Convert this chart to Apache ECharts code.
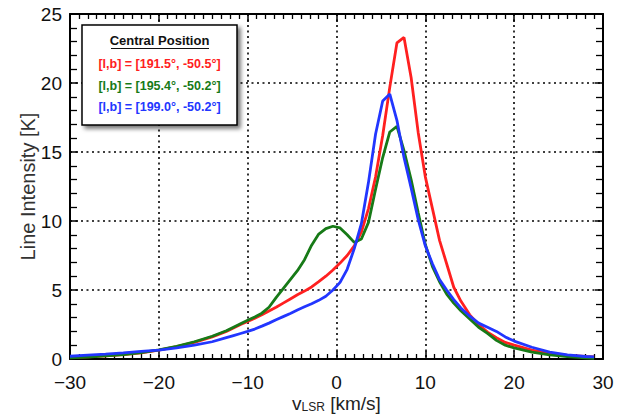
<!DOCTYPE html>
<html>
<head>
<meta charset="utf-8">
<script src="https://cdn.jsdelivr.net/npm/echarts@6/dist/echarts.min.js"></script>
<style>
html,body{margin:0;padding:0;background:#fff;}
#chart{width:624px;height:414px;}
</style>
</head>
<body>
<div id="chart"></div>
<script>
// ---- data ----
const velocity = [-30, -28, -26, -24, -22, -20, -18, -16, -14, -12.4, -11.6, -10.8, -10.0, -9.2, -8.4, -7.6, -6.8, -6.0, -5.2, -4.4, -3.6, -2.8, -2.0, -1.2, -0.4, 0.4, 1.2, 2.0, 2.8, 3.6, 4.4, 5.2, 6.0, 6.8, 7.6, 8.4, 9.2, 10.0, 10.8, 11.6, 12.4, 13.2, 14.0, 15, 16, 17, 18, 19, 20, 22, 24, 26, 28, 29];
const redIntensity = [0.10, 0.15, 0.22, 0.32, 0.45, 0.65, 0.90, 1.20, 1.60, 2.00, 2.25, 2.50, 2.72, 2.95, 3.20, 3.48, 3.75, 4.05, 4.35, 4.65, 4.92, 5.22, 5.60, 6.00, 6.45, 6.95, 7.50, 8.20, 9.20, 10.9, 13.2, 16.2, 19.7, 22.9, 23.3, 20.4, 16.4, 13.2, 10.9, 8.6, 6.9, 5.2, 4.2, 3.2, 2.5, 1.95, 1.55, 1.2, 1.0, 0.65, 0.42, 0.27, 0.18, 0.15];
const greenIntensity = [0.08, 0.14, 0.22, 0.32, 0.46, 0.66, 0.92, 1.25, 1.65, 2.05, 2.30, 2.55, 2.80, 3.05, 3.32, 3.75, 4.45, 5.10, 5.75, 6.40, 7.20, 8.25, 9.05, 9.45, 9.62, 9.50, 9.00, 8.45, 8.70, 9.90, 12.3, 14.6, 16.45, 16.85, 15.1, 13.0, 10.6, 8.3, 6.7, 5.6, 4.7, 4.05, 3.5, 2.9, 2.3, 1.85, 1.35, 1.0, 0.8, 0.5, 0.3, 0.17, 0.08, 0.05];
const blueIntensity = [0.20, 0.28, 0.36, 0.45, 0.55, 0.65, 0.80, 1.00, 1.25, 1.55, 1.70, 1.85, 2.00, 2.17, 2.38, 2.60, 2.84, 3.07, 3.30, 3.55, 3.78, 4.00, 4.25, 4.55, 5.00, 5.55, 6.50, 8.00, 9.80, 12.8, 16.3, 18.7, 19.2, 17.3, 14.6, 12.4, 10.1, 8.2, 6.9, 5.75, 5.0, 4.3, 3.7, 3.1, 2.6, 2.3, 2.0, 1.6, 1.3, 0.85, 0.5, 0.3, 0.18, 0.15];
const seriesNames = ['[l,b] = [191.5°, -50.5°]', '[l,b] = [195.4°, -50.2°]', '[l,b] = [199.0°, -50.2°]'];
const legendTitle = 'Central Position';
const xTickValues = [-30, -20, -10, 0, 10, 20, 30];
const yTickValues = [0, 5, 10, 15, 20, 25];

const colors = ['#ff2020', '#177a17', '#2236ff'];
const FONT = '"Liberation Sans", Arial, Helvetica, sans-serif';

function pairs(xs, ys) { return xs.map((x, i) => [x, ys[i]]); }

const chart = echarts.init(document.getElementById('chart'), null, {renderer: 'svg'});

const frameLine = {show: true, onZero: false, lineStyle: {color: '#000', width: 2}};
const gridLine = {show: true, lineStyle: {color: '#000', width: 1.6, type: [2, 3.5]}};

const xBase = {
  type: 'value', min: xTickValues[0], max: xTickValues[xTickValues.length - 1], interval: 10,
  axisLine: frameLine,
  axisTick: {show: true, inside: true, length: 8, lineStyle: {color: '#000', width: 1.5}},
  minorTick: {show: true, splitNumber: 10, length: 5, lineStyle: {color: '#000', width: 1.3}},
};
const yBase = {
  type: 'value', min: yTickValues[0], max: yTickValues[yTickValues.length - 1], interval: 5,
  axisLine: frameLine,
  axisTick: {show: true, inside: true, length: 8, lineStyle: {color: '#000', width: 1.5}},
  minorTick: {show: true, splitNumber: 5, length: 7, lineStyle: {color: '#000', width: 1.3}},
};

const legendX = 82, legendY = 25, legendW = 155, legendH = 100;

chart.setOption({
  animation: false,
  backgroundColor: '#fff',
  grid: {left: 70, right: 21, top: 14, bottom: 55, containLabel: false, outerBoundsMode: 'none'},
  xAxis: [
    Object.assign({}, xBase, {
      position: 'bottom',
      axisLabel: {show: true, margin: 14, fontSize: 19, fontFamily: FONT, color: '#111',
        formatter: v => String(v).replace('-', '\u2212')},
      splitLine: gridLine,
      name: '{v|v}{s|LSR}{v| [km/s]}',
      nameLocation: 'middle', nameGap: 35, nameMoveOverlap: false,
      nameTextStyle: {verticalAlign: 'top', rich: {
        v: {fontSize: 19, fontFamily: FONT, color: '#222', verticalAlign: 'bottom', lineHeight: 19},
        s: {fontSize: 12, fontFamily: FONT, color: '#222', verticalAlign: 'bottom', lineHeight: 8}
      }}
    }),
    Object.assign({}, xBase, {
      position: 'top', axisLabel: {show: false}, splitLine: {show: false}
    })
  ],
  yAxis: [
    Object.assign({}, yBase, {
      position: 'left',
      axisLabel: {show: true, margin: 8, fontSize: 19, fontFamily: FONT, color: '#111'},
      splitLine: gridLine,
      name: 'Line Intensity [K]', nameLocation: 'middle', nameGap: 32, nameRotate: 90, nameMoveOverlap: false,
      nameTextStyle: {fontSize: 20, fontFamily: FONT, color: '#333'}
    }),
    Object.assign({}, yBase, {
      position: 'right', axisLabel: {show: false}, splitLine: {show: false}
    })
  ],
  series: [redIntensity, greenIntensity, blueIntensity].map((vals, i) => ({
    name: seriesNames[i], type: 'line', xAxisIndex: 0, yAxisIndex: 0,
    data: pairs(velocity, vals), showSymbol: false, smooth: false, clip: true,
    lineStyle: {color: colors[i], width: 2.8}, itemStyle: {color: colors[i]}, z: 3 + i
  })),
  graphic: [
    {type: 'rect', z: 20, shape: {x: legendX, y: legendY, width: legendW, height: legendH},
     style: {fill: '#fff', stroke: '#000', lineWidth: 1.5, shadowBlur: 4, shadowOffsetX: 3, shadowOffsetY: 3, shadowColor: 'rgba(0,0,0,0.55)'}},
    {type: 'text', z: 21, x: legendX + legendW / 2, y: 40,
     style: {text: legendTitle, fill: '#111', font: 'bold 13px ' + FONT, align: 'center', verticalAlign: 'middle'}},
    {type: 'line', z: 21, shape: {x1: 111, y1: 48.5, x2: 209, y2: 48.5}, style: {stroke: '#111', lineWidth: 1.2}},
    ...seriesNames.map((t, i) => ({
      type: 'text', z: 21, x: legendX + legendW / 2, y: 64 + i * 21.5,
      style: {text: t, fill: colors[i], font: 'bold 12.5px ' + FONT, align: 'center', verticalAlign: 'middle'}
    }))
  ]
});
</script>
</body>
</html>
